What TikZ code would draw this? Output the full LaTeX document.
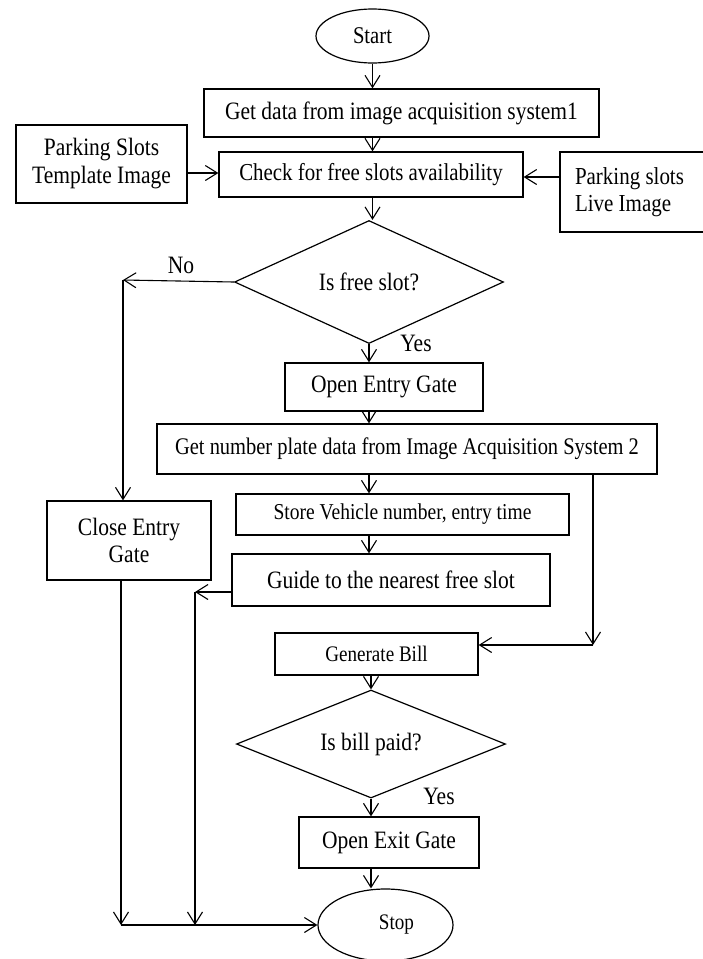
\documentclass[tikz,border=0pt]{standalone}
\usepackage{fontspec}
\setmainfont{Liberation Serif}[FakeStretch=0.86]
\usetikzlibrary{shapes.geometric,arrows.meta,calc}
\begin{document}
\begin{tikzpicture}[x=1pt,y=-1pt,
  line width=1.1pt,
  every node/.style={font=\fontsize{25}{28}\selectfont, text=black},
  box/.style={draw, rectangle, inner sep=0pt, align=center, line width=1.3pt},
  oval/.style={draw, ellipse, inner sep=0pt, line width=1.2pt},
  decide/.style={draw, diamond, aspect=2.5, inner sep=0pt, line width=1.2pt},
  flow/.style={-{Straight Barb[length=12pt,width=15pt,line width=1.1pt]}},
  lab/.style={inner sep=0pt}
]
\useasboundingbox (0,0) rectangle (702,959);
% nodes
\node[oval, minimum width=113pt, minimum height=54pt, font=\fontsize{24}{28}\selectfont] (start) at (372.5,36) {Start};
\node[box, minimum width=395pt, minimum height=48pt] (getdata) at (401.5,113) {Get data from image acquisition system1};
\node[box, minimum width=304pt, minimum height=45pt, font=\fontsize{24.3}{28}\selectfont] (check) at (371,174.5) {Check for free slots availability};
\node[box, minimum width=171pt, minimum height=78pt] (template) at (101.5,164) {Parking Slots\\Template Image};
\node[box, minimum height=80pt, text width=118pt, inner xsep=15pt, align=flush left,
      font=\fontsize{24.4}{27}\selectfont] (live) at (634,192) {Parking slots\\Live Image};
\node[decide, minimum width=269pt, minimum height=123pt] (d1) at (369,282) {Is free slot?};
\node[box, minimum width=198pt, minimum height=48pt] (openentry) at (384,387) {Open Entry Gate};
\node[box, minimum width=500pt, minimum height=50pt, font=\fontsize{23.8}{26}\selectfont] (getnum) at (407,449) {Get number plate data from Image Acquisition System 2};
\node[box, minimum width=333pt, minimum height=41pt, font=\fontsize{22.7}{25}\selectfont] (store) at (402.5,514.5) {Store Vehicle number, entry time};
\node[box, minimum width=318pt, minimum height=52pt] (guide) at (391,580) {Guide to the nearest free slot};
\node[box, minimum width=164pt, minimum height=79pt, font=\fontsize{25}{27}\selectfont] (close) at (129,540.5) {Close Entry\\Gate};
\node[box, minimum width=203pt, minimum height=42pt, font=\fontsize{22.2}{24}\selectfont] (genbill) at (376.5,654) {Generate Bill};
\node[decide, minimum width=269pt, minimum height=108pt] (d2) at (371,744) {Is bill paid?};
\node[box, minimum width=180pt, minimum height=51pt] (openexit) at (389,842.5) {Open Exit Gate};
\node[oval, minimum width=135pt, minimum height=72pt, font=\fontsize{22.2}{25}\selectfont] (stop) at (385.5,925) {\hspace{22pt}Stop};
% labels
\node[lab] (no) at (181,265) {No};
\node[lab] (yes1) at (416,343) {Yes};
\node[lab] (yes2) at (439,796) {Yes};
% helper coordinates
\coordinate (noc) at (123,280);
\coordinate (g1) at (195,592);
\coordinate (b1) at (121,925);
\coordinate (b2) at (195,925);
\coordinate (r1) at (593,474);
\coordinate (r2) at (593,645);
% connectors
\draw[flow] (start.south) -- (getdata.north -| start.south);
\draw[flow] (getdata.south -| start.south) -- (check.north -| start.south);
\draw[flow] (template.east |- 0,173) -- (check.west |- 0,173);
\draw[flow] (live.west |- 0,177) -- (check.east |- 0,177);
\draw[flow] (check.south -| start.south) -- (d1.north -| start.south);
\draw[flow] (d1.west) -- (noc);
\draw[flow] (noc) -- (noc |- close.north);
\draw[flow] (d1.south) -- (d1.south |- openentry.north);
\draw[flow] (d1.south |- openentry.south) -- (d1.south |- getnum.north);
\draw[flow] (d1.south |- getnum.south) -- (d1.south |- store.north);
\draw[flow] (d1.south |- store.south) -- (d1.south |- guide.north);
\draw[flow] (g1 -| guide.west) -- (g1);
\draw[flow] (g1) -- (b2);
\draw[flow] (close.south -| b1) -- (b1);
\draw[flow] (b1) -- (stop.west);
\draw[flow] (r1) -- (r2);
\draw[flow] (r2) -- (genbill.east |- r2);
\draw[flow] (d2.north |- genbill.south) -- (d2.north);
\draw[flow] (d2.south) -- (d2.south |- openexit.north);
\draw[flow] (d2.south |- openexit.south) -- (d2.south |- stop.north);
\end{tikzpicture}
\end{document}
